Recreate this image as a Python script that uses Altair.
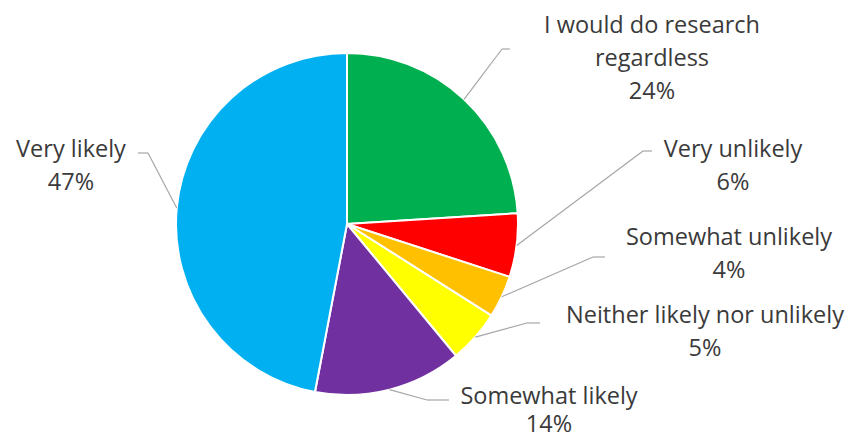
import altair as alt
import pandas as pd

# ---- data ----
categories = ["I would do research regardless", "Very unlikely", "Somewhat unlikely",
              "Neither likely nor unlikely", "Somewhat likely", "Very likely"]
label_lines = [["I would do research", "regardless"], ["Very unlikely"], ["Somewhat unlikely"],
               ["Neither likely nor unlikely"], ["Somewhat likely"], ["Very likely"]]
values = [24, 6, 4, 5, 14, 47]
colors = ["#00B050", "#FF0000", "#FFC000", "#FFFF00", "#7030A0", "#00B0F0"]

# ---- label layout (page pixels; y = baseline of first line) ----
MARGIN = 8
label_x = [652, 733, 729, 705, 549, 71]
label_y = [33, 157, 245, 323, 404, 157]
elbow_x = [502, 643, 593, 527, 427, 148]
elbow_y = [49, 151, 257, 323, 400, 153]
tail_x = [510, 652, 605, 540, 449, 138]

CX, CY, R = 347 - MARGIN, 224 - MARGIN, 171
W, H = 853 - 2 * MARGIN, 442 - 2 * MARGIN

df = pd.DataFrame({
    "idx": list(range(len(categories))),
    "category": categories,
    "value": values,
    "text": ["\n".join(l + [f"{v}%"]) for l, v in zip(label_lines, values)],
    "lx": [x - MARGIN for x in label_x],
    "ly": [y - MARGIN for y in label_y],
    "bx": [x - MARGIN for x in elbow_x],
    "by": [y - MARGIN for y in elbow_y],
    "tx": [x - MARGIN for x in tail_x],
})

base = alt.Chart(df)

pie = base.mark_arc(outerRadius=R, stroke="white", strokeWidth=2).encode(
    theta=alt.Theta("value:Q", stack=True),
    color=alt.Color("category:N", scale=alt.Scale(domain=categories, range=colors), legend=None),
    order=alt.Order("idx:Q"),
    x=alt.value(CX),
    y=alt.value(CY),
)

edge = base.transform_joinaggregate(
    total="sum(value)"
).transform_window(
    cum="sum(value)", sort=[alt.SortField("idx")], frame=[None, 0]
).transform_calculate(
    mid="(datum.cum - datum.value/2) / datum.total * 2 * PI",
).transform_calculate(
    ex=f"{CX} + {R} * sin(datum.mid)",
    ey=f"{CY} - {R} * cos(datum.mid)",
)

lead1 = edge.mark_rule(color="#A6A6A6", strokeWidth=1.2).encode(
    x=alt.X("ex:Q", scale=None), y=alt.Y("ey:Q", scale=None),
    x2="bx:Q", y2="by:Q",
)
lead2 = base.mark_rule(color="#A6A6A6", strokeWidth=1.2).encode(
    x=alt.X("bx:Q", scale=None), y=alt.Y("by:Q", scale=None),
    x2="tx:Q", y2="by:Q",
)

text_style = dict(font="Open Sans", fontSize=23.5, color="#3A3A3A",
                  lineBreak="\n", align="center", baseline="alphabetic")
text_enc = dict(x=alt.X("lx:Q", scale=None), y=alt.Y("ly:Q", scale=None), text="text:N")

labels = base.transform_filter("datum.idx != 4").mark_text(lineHeight=33, **text_style).encode(**text_enc)
labels_bottom = base.transform_filter("datum.idx == 4").mark_text(lineHeight=28, **text_style).encode(**text_enc)

chart = alt.layer(pie, lead1, lead2, labels, labels_bottom).properties(
    width=W, height=H, padding=0, autosize=alt.AutoSizeParams(type="none"),
    background="white",
).configure_view(stroke=None)

chart.save("out.html", embed_options={"renderer": "svg", "actions": False})
